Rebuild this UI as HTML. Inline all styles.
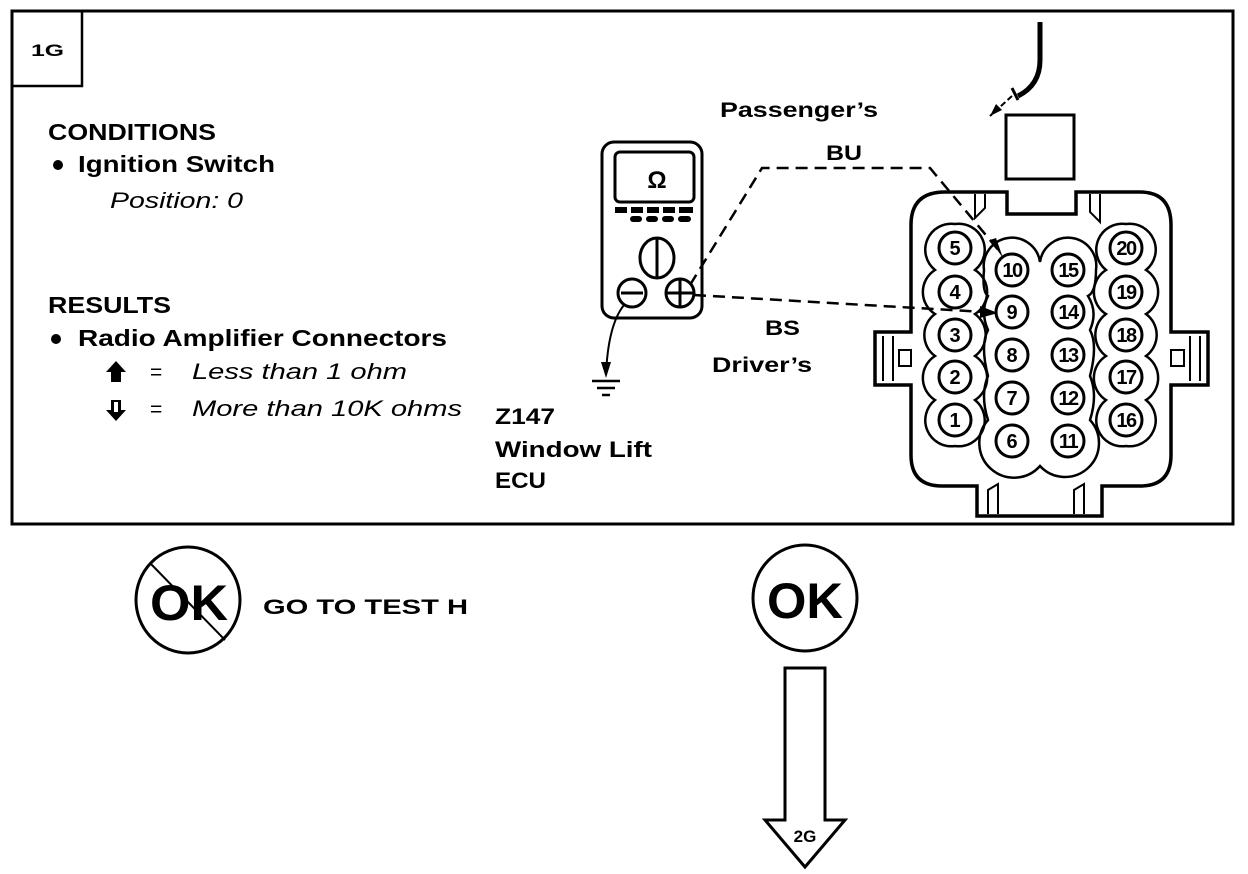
<!DOCTYPE html>
<html><head><meta charset="utf-8"><style>
html,body{margin:0;padding:0;background:#fff;}
svg{display:block;}
text{font-family:"Liberation Sans",sans-serif;fill:#000;}
.b{font-weight:bold;}
.i{font-style:italic;}
</style></head><body>
<svg width="1248" height="874" viewBox="0 0 1248 874" xmlns="http://www.w3.org/2000/svg">
<g fill="none" stroke="#000">
<rect x="12" y="11" width="1221" height="513" stroke-width="3"/>
<path d="M12 86 H82 V11" stroke-width="2.5"/>
</g>
<text x="31" y="56" class="b" font-size="17" textLength="33" lengthAdjust="spacingAndGlyphs">1G</text>
<text x="48" y="140" class="b" font-size="23" textLength="168" lengthAdjust="spacingAndGlyphs">CONDITIONS</text>
<circle cx="58" cy="165" r="5"/>
<text x="78" y="172" class="b" font-size="23" textLength="197" lengthAdjust="spacingAndGlyphs">Ignition Switch</text>
<text x="110" y="208" class="i" font-size="22" textLength="133" lengthAdjust="spacingAndGlyphs">Position: 0</text>
<text x="48" y="313" class="b" font-size="23" textLength="123" lengthAdjust="spacingAndGlyphs">RESULTS</text>
<circle cx="56" cy="339" r="5"/>
<text x="78" y="346" class="b" font-size="23" textLength="369" lengthAdjust="spacingAndGlyphs">Radio Amplifier Connectors</text>
<path d="M116 361 L106 372 H111 V382 H121 V372 H126 Z" fill="#000"/>
<text x="150" y="379" font-size="21">=</text>
<text x="192" y="379" class="i" font-size="22" textLength="215" lengthAdjust="spacingAndGlyphs">Less than 1 ohm</text>
<path d="M111 400 H121 V410 H126 L116 421 L106 410 H111 Z" fill="#000"/>
<path d="M114 402 H118 V412 H114 Z" fill="#fff"/>
<text x="150" y="416" font-size="21">=</text>
<text x="192" y="416" class="i" font-size="22" textLength="270" lengthAdjust="spacingAndGlyphs">More than 10K ohms</text>
<text x="495" y="424" class="b" font-size="22" textLength="60" lengthAdjust="spacingAndGlyphs">Z147</text>
<text x="495" y="457" class="b" font-size="22" textLength="157" lengthAdjust="spacingAndGlyphs">Window Lift</text>
<text x="495" y="488" class="b" font-size="22" textLength="51" lengthAdjust="spacingAndGlyphs">ECU</text>
<text x="720" y="117" class="b" font-size="21" textLength="158" lengthAdjust="spacingAndGlyphs">Passenger’s</text>
<text x="826" y="160" class="b" font-size="21" textLength="36" lengthAdjust="spacingAndGlyphs">BU</text>
<text x="765" y="335" class="b" font-size="21" textLength="35" lengthAdjust="spacingAndGlyphs">BS</text>
<text x="712" y="372" class="b" font-size="21" textLength="100" lengthAdjust="spacingAndGlyphs">Driver’s</text>

<g fill="none" stroke="#000" stroke-width="3">
<rect x="602" y="142" width="100" height="176" rx="12"/>
<rect x="615" y="152" width="79" height="50" rx="5"/>
<ellipse cx="657" cy="258" rx="17" ry="20"/>
<line x1="657" y1="238" x2="657" y2="278"/>
<circle cx="632" cy="293" r="14"/>
<line x1="621" y1="293" x2="643" y2="293"/>
<circle cx="680" cy="293" r="14"/>
<line x1="666" y1="293" x2="694" y2="293"/>
<line x1="680" y1="279" x2="680" y2="307"/>
<path d="M624 305 Q608 325 606 375" stroke-width="2"/>
</g>
<text x="657" y="188" class="b" font-size="24" text-anchor="middle">Ω</text>
<g fill="#000">
<rect x="615" y="207" width="12" height="6"/><rect x="631" y="207" width="12" height="6"/><rect x="647" y="207" width="12" height="6"/><rect x="663" y="207" width="12" height="6"/><rect x="679" y="207" width="14" height="6"/>
<rect x="630" y="216" width="12" height="6" rx="3"/><rect x="646" y="216" width="12" height="6" rx="3"/><rect x="662" y="216" width="12" height="6" rx="3"/><rect x="678" y="216" width="13" height="6" rx="3"/>
<path d="M601 362 L611 362 L606 378 Z"/>
</g>
<g stroke="#000" stroke-width="2.5">
<line x1="592" y1="381" x2="620" y2="381"/>
<line x1="597" y1="388" x2="615" y2="388"/>
<line x1="602" y1="395" x2="610" y2="395"/>
</g>

<g fill="none" stroke="#000" stroke-width="2.5" stroke-dasharray="12,7">
<path d="M690 285 L762 168 L930 168 L1000 252"/>
<path d="M694 295 L985 312"/>
</g>
<path d="M990 240 L1003 258 L996 238 Z" fill="#000"/>
<path d="M980 306 L998 313 L980 318 Z" fill="#000"/>

<g fill="none" stroke="#000">
<path d="M1040 22 V60 Q1040 85 1018 96" stroke-width="5"/>
<path d="M1012 88 L1018 100" stroke-width="3"/>
<line x1="1012" y1="96" x2="990" y2="116" stroke-width="2" stroke-dasharray="6,3"/>
<rect x="1006" y="115" width="68" height="64" stroke-width="3"/>
</g>
<path d="M990 116 L996 104 L1002 110 Z" fill="#000"/>

<g fill="none" stroke="#000" stroke-width="3.5">
<path d="M945 192 H1007 V214 H1076 V192 H1140 Q1171 192 1171 225 V332 H1208 V385 H1171 V455 Q1171 486 1140 486 H1102 V516 H977 V486 H942 Q911 486 911 455 V385 H875 V332 H911 V225 Q911 192 945 192 Z"/>
</g>
<g fill="none" stroke="#000" stroke-width="2">
<path d="M975 194 V218 L985 208 V194"/>
<path d="M1090 194 V212 L1100 222 V194"/>
<path d="M988 514 V490 L998 484 V514"/>
<path d="M1074 514 V490 L1084 484 V514"/>
<path d="M883 336 V381 M893 336 V381 M899 350 H911 V366 H899 Z"/>
<path d="M1200 336 V381 M1190 336 V381 M1184 350 H1171 V366 H1184 Z"/>
</g>
<g fill="none" stroke="#000" stroke-width="2.5">
<path d="M955 224 A26 26 0 0 1 975 270 A26 26 0 0 1 975 314 A26 26 0 0 1 975 356 A26 26 0 0 1 975 400 A26 26 0 0 1 955 446 A26 26 0 0 1 935 400 A26 26 0 0 1 935 356 A26 26 0 0 1 935 314 A26 26 0 0 1 935 270 A26 26 0 0 1 955 224 Z"/>
<path d="M1126 224 A26 26 0 0 1 1146 270 A26 26 0 0 1 1146 314 A26 26 0 0 1 1146 356 A26 26 0 0 1 1146 400 A26 26 0 0 1 1126 446 A26 26 0 0 1 1106 400 A26 26 0 0 1 1106 356 A26 26 0 0 1 1106 314 A26 26 0 0 1 1106 270 A26 26 0 0 1 1126 224 Z"/>
<path d="M1040 262 A28 28 0 0 1 1096 270 Q1096 292 1088 296 Q1098 312 1090 330 Q1098 345 1090 376 Q1098 395 1090 420 A28 28 0 0 1 1040 466 A28 28 0 0 1 988 420 Q980 395 988 376 Q980 345 988 330 Q980 312 988 296 Q982 292 984 270 A28 28 0 0 1 1040 262 Z"/>
</g>
<g fill="none" stroke="#000" stroke-width="3">
<circle cx="955" cy="248" r="16"/><circle cx="955" cy="292" r="16"/><circle cx="955" cy="335" r="16"/><circle cx="955" cy="377" r="16"/><circle cx="955" cy="420" r="16"/>
<circle cx="1012" cy="270" r="16"/><circle cx="1012" cy="312" r="16"/><circle cx="1012" cy="355" r="16"/><circle cx="1012" cy="398" r="16"/><circle cx="1012" cy="441" r="16"/>
<circle cx="1068" cy="270" r="16"/><circle cx="1068" cy="312" r="16"/><circle cx="1068" cy="355" r="16"/><circle cx="1068" cy="398" r="16"/><circle cx="1068" cy="441" r="16"/>
<circle cx="1126" cy="248" r="16"/><circle cx="1126" cy="292" r="16"/><circle cx="1126" cy="335" r="16"/><circle cx="1126" cy="377" r="16"/><circle cx="1126" cy="420" r="16"/>
</g>
<g font-size="20" text-anchor="middle" font-weight="bold">
<text x="955" y="255">5</text><text x="955" y="299">4</text><text x="955" y="342">3</text><text x="955" y="384">2</text><text x="955" y="427">1</text>
<text x="1012" y="277" letter-spacing="-1.5">10</text><text x="1012" y="319">9</text><text x="1012" y="362">8</text><text x="1012" y="405">7</text><text x="1012" y="448">6</text>
<text x="1068" y="277" letter-spacing="-1.5">15</text><text x="1068" y="319" letter-spacing="-1.5">14</text><text x="1068" y="362" letter-spacing="-1.5">13</text><text x="1068" y="405" letter-spacing="-1.5">12</text><text x="1068" y="448" letter-spacing="-1.5">11</text>
<text x="1126" y="255" letter-spacing="-1.5">20</text><text x="1126" y="299" letter-spacing="-1.5">19</text><text x="1126" y="342" letter-spacing="-1.5">18</text><text x="1126" y="384" letter-spacing="-1.5">17</text><text x="1126" y="427" letter-spacing="-1.5">16</text>
</g>

<g fill="none" stroke="#000" stroke-width="3">
<ellipse cx="188" cy="600" rx="52" ry="53"/>
<line x1="150" y1="563" x2="225" y2="640" stroke-width="2"/>
<ellipse cx="805" cy="598" rx="52" ry="53"/>
<path d="M785 668 H825 V820 H845 L805 867 L765 820 H785 Z"/>
</g>
<text x="150" y="620" class="b" font-size="50" textLength="78" lengthAdjust="spacingAndGlyphs">OK</text>
<text x="263" y="614" class="b" font-size="21" textLength="205" lengthAdjust="spacingAndGlyphs">GO TO TEST H</text>
<text x="767" y="618" class="b" font-size="50" textLength="76" lengthAdjust="spacingAndGlyphs">OK</text>
<text x="805" y="842" class="b" font-size="17" text-anchor="middle">2G</text>
</svg>
</body></html>
